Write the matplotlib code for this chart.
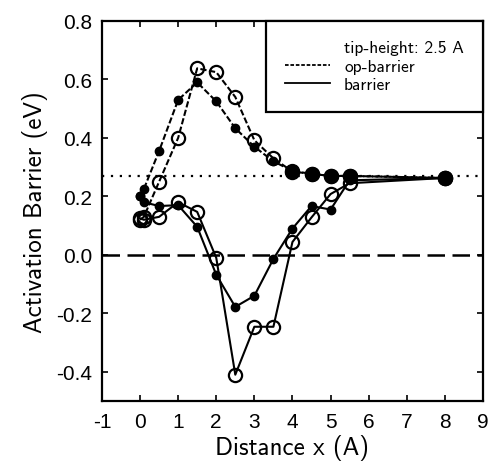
import numpy as np
from matplotlib import pyplot as plt
from matplotlib.lines import Line2D

# distance x (A)
x = [0, 0.1, 0.5, 1, 1.5, 2, 2.5, 3, 3.5, 4, 4.5, 5, 5.5, 8]

# op-barrier (dashed)
op_filled = [0.20, 0.225, 0.355, 0.53, 0.59, 0.525, 0.433, 0.37, 0.32, 0.287, 0.277, 0.27, 0.27, 0.263]
op_open = [0.12, 0.13, 0.25, 0.40, 0.638, 0.625, 0.54, 0.392, 0.33, 0.285, 0.277, 0.27, 0.27, 0.263]

# barrier (solid)
bar_filled = [0.20, 0.18, 0.167, 0.17, 0.096, -0.068, -0.178, -0.14, -0.014, 0.09, 0.167, 0.155, 0.255, 0.263]
bar_open = [0.125, 0.12, 0.13, 0.18, 0.147, -0.01, -0.41, -0.246, -0.246, 0.044, 0.128, 0.208, 0.245, 0.263]

ref_level = 0.27
xticks = list(range(-1, 10))
yticks = [-0.4, -0.2, 0.0, 0.2, 0.4, 0.6, 0.8]

label_font = ['cmss10', 'DejaVu Sans']
plt.rcParams['font.family'] = ['Liberation Sans', 'DejaVu Sans']
plt.rcParams['axes.unicode_minus'] = False

fig = plt.figure(figsize=(4.90, 4.64), dpi=100)
ax = fig.add_axes([0.208, 0.1336, 0.7777, 0.819])

ax.axhline(ref_level, color='k', ls=(0, (1, 3)), lw=1.6, zorder=1)
ax.axhline(0.0, color='k', ls=(0, (7, 3)), lw=1.8, zorder=1)

dash = (0, (3, 1.2))
ax.plot(x, op_filled, color='k', ls=dash, lw=1.5, marker='o', ms=6,
        mfc='k', mec='k', zorder=3)
ax.plot(x, op_open, color='k', ls=dash, lw=1.5, marker='o', ms=9.5,
        mfc='none', mec='k', mew=1.6, zorder=3)
ax.plot(x, bar_filled, color='k', ls='-', lw=1.5, marker='o', ms=6,
        mfc='k', mec='k', zorder=3)
ax.plot(x, bar_open, color='k', ls='-', lw=1.5, marker='o', ms=9.5,
        mfc='none', mec='k', mew=1.6, zorder=3)
# where both op-barrier curves coincide the dots look solid and large
ax.plot(x[9:], op_filled[9:], ls='none', marker='o', ms=10, mfc='k', mec='k', zorder=4)

ax.set_xlim(-1, 9)
ax.set_ylim(-0.5, 0.8)
ax.set_xticks(xticks)
ax.set_yticks(yticks)
ax.set_xticklabels([str(t) for t in xticks])
ax.set_yticklabels(['%.1f' % t for t in yticks])
ax.tick_params(direction='in', length=4, width=1.2, top=True, right=True,
               labelsize=15, pad=8)
ax.tick_params(axis='y', pad=7)
for s in ax.spines.values():
    s.set_linewidth(1.6)

ax.set_xlabel('Distance x (A)', fontsize=18, family=label_font, labelpad=2)
ax.set_ylabel('Activation Barrier (eV)', fontsize=18, family=label_font, labelpad=6)

handles = [Line2D([], [], color='none'),
           Line2D([], [], color='k', ls=(0, (2, 1)), lw=1.3),
           Line2D([], [], color='k', ls='-', lw=1.3)]
labels = ['tip-height: 2.5 A', 'op-barrier', 'barrier']
leg = ax.legend(handles, labels, loc='upper right', bbox_to_anchor=(1.0, 1.0),
                fancybox=False, framealpha=1, edgecolor='k', borderaxespad=0,
                handlelength=2.6, labelspacing=0.2, borderpad=1.1,
                prop={'family': label_font, 'size': 12.5})
leg.get_frame().set_linewidth(1.6)

fig.savefig('out.png', dpi=100)
